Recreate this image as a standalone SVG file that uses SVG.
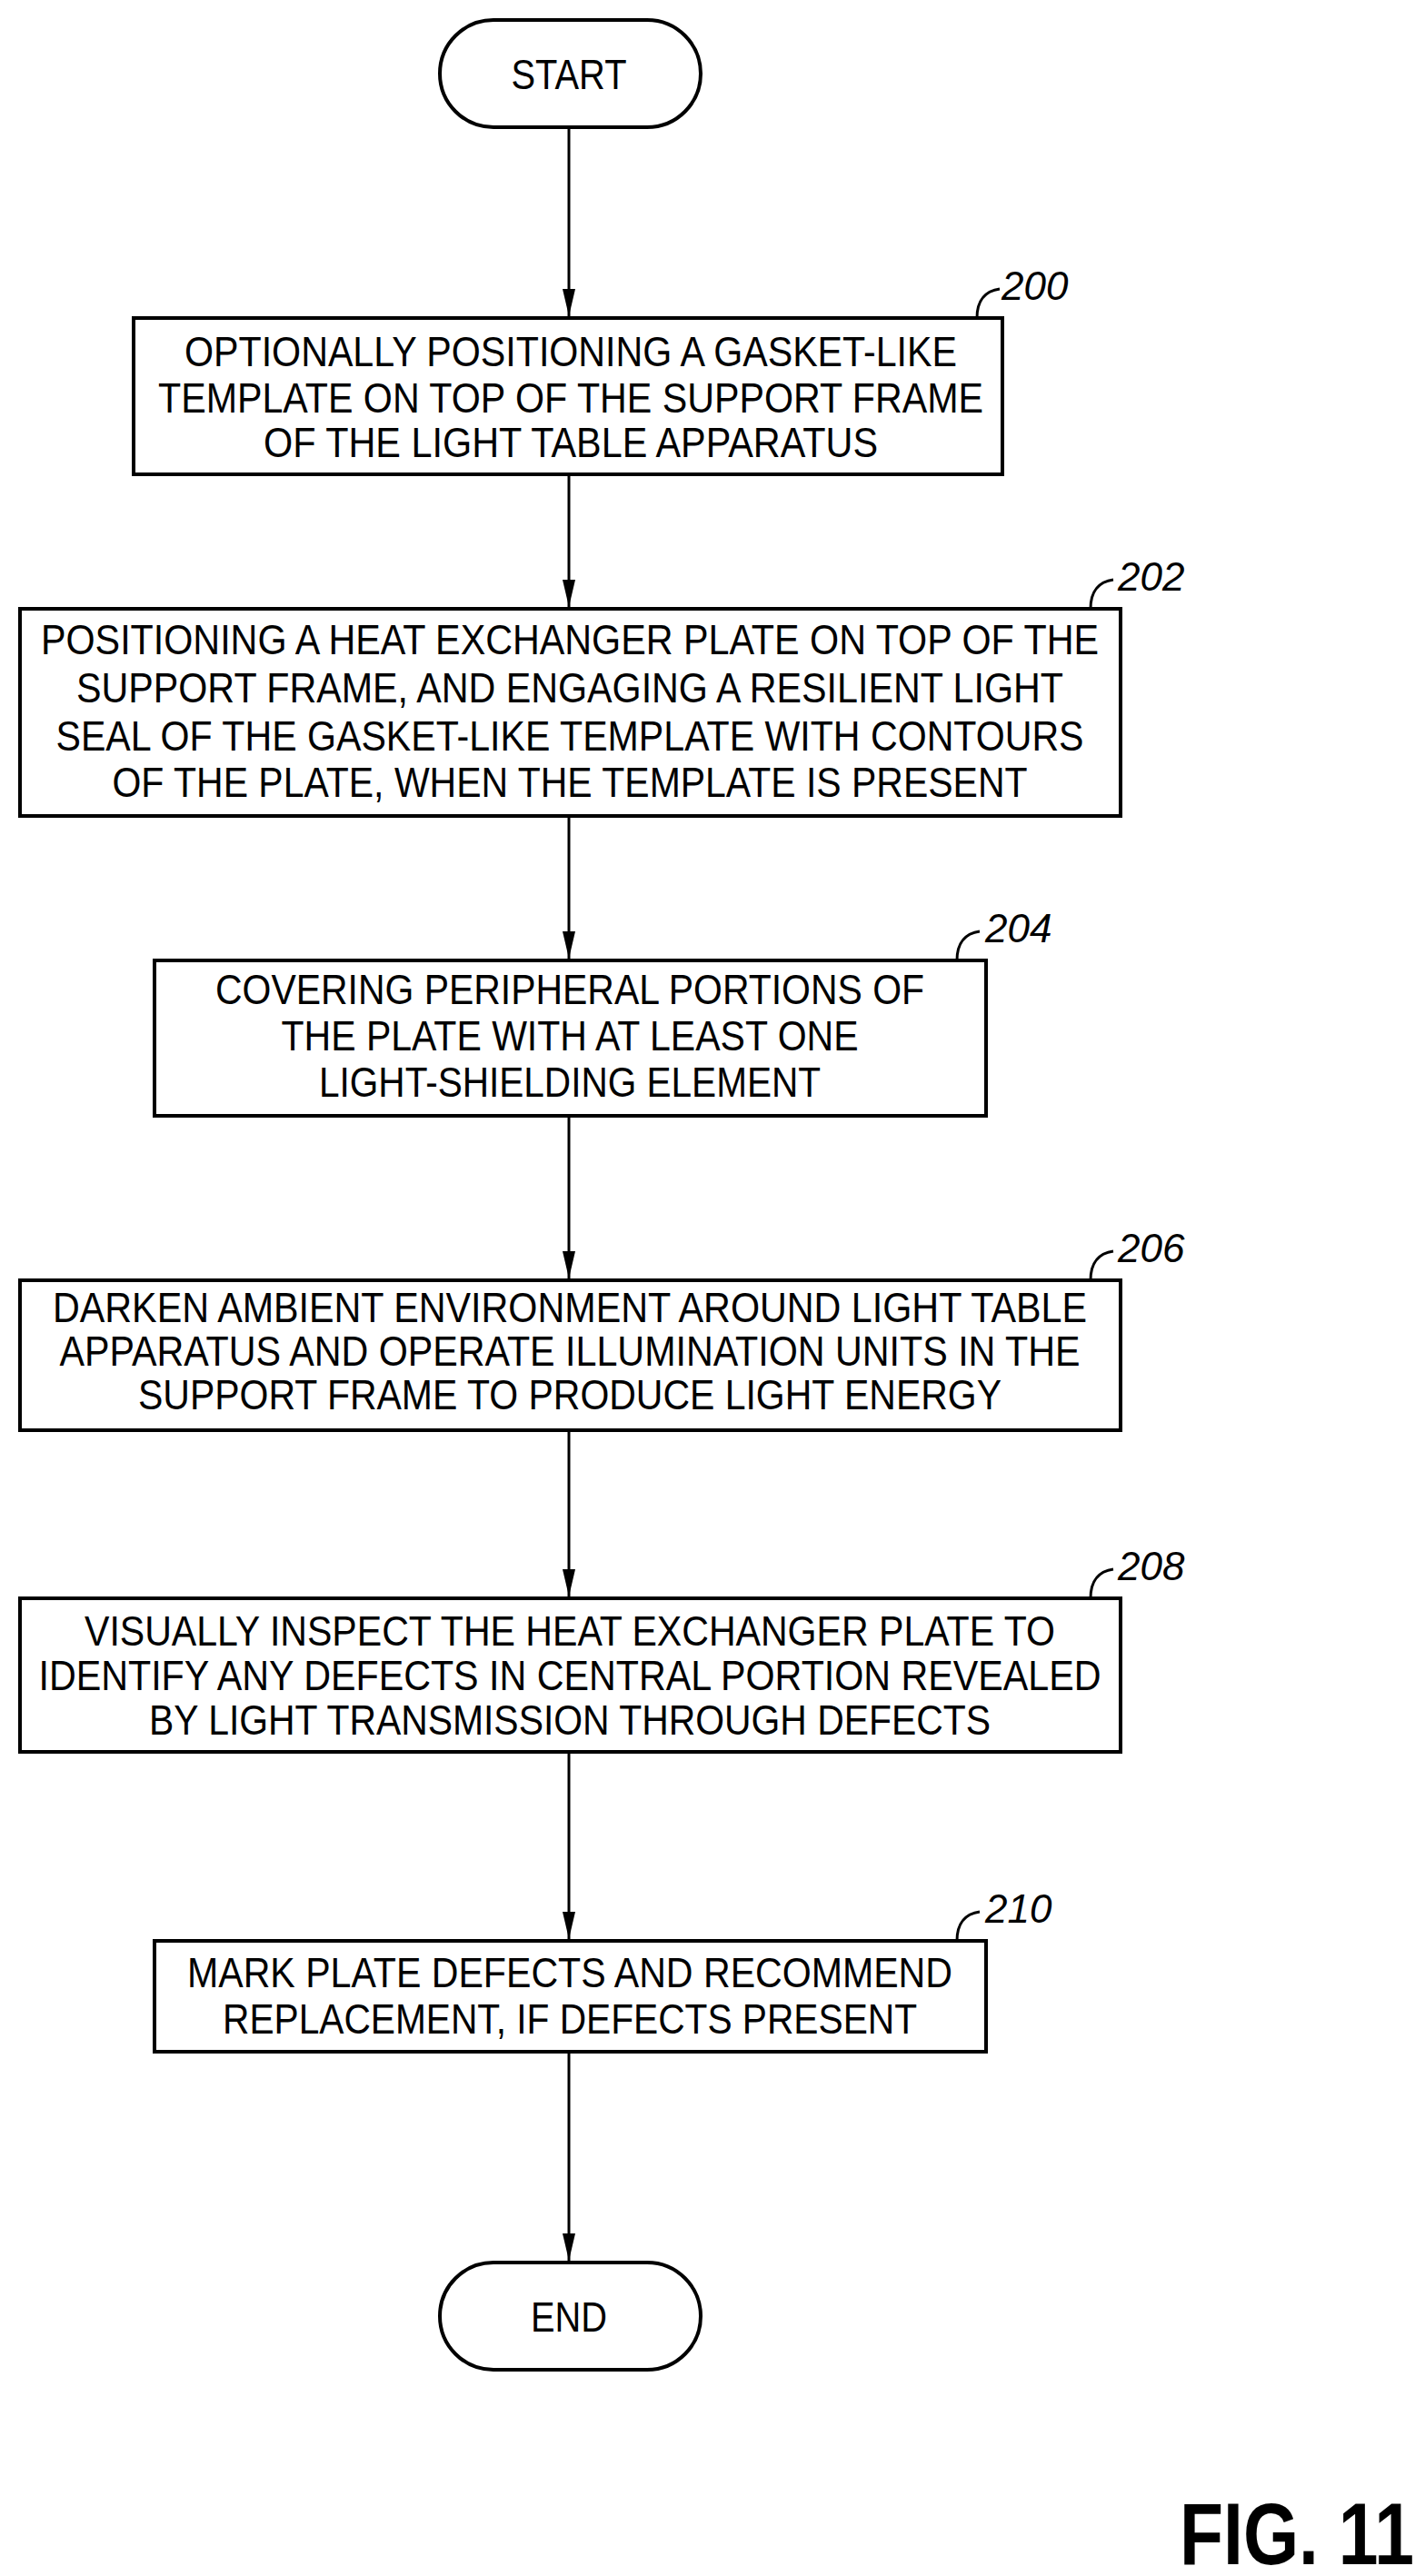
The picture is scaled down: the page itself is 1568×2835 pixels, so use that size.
<svg xmlns="http://www.w3.org/2000/svg" width="1568" height="2835" viewBox="0 0 1568 2835">
<style>
.b{fill:#fff;stroke:#000;stroke-width:4}
.t{font-family:"Liberation Sans",Arial,sans-serif;font-size:46px;text-anchor:middle;fill:#000}
.r{font-family:"Liberation Sans",Arial,sans-serif;font-size:44px;font-style:italic;fill:#000}
.l{fill:none;stroke:#000;stroke-width:3}
</style>
<defs>
<marker id="ah" markerWidth="30" markerHeight="14" refX="30" refY="7" orient="auto" markerUnits="userSpaceOnUse"><path d="M0,0 L30,7 L0,14Z" fill="#000"/></marker></defs>
<g id="connectors">
<line class="l" x1="626" y1="140" x2="626" y2="348" marker-end="url(#ah)"/>
<line class="l" x1="626" y1="522" x2="626" y2="668" marker-end="url(#ah)"/>
<line class="l" x1="626" y1="898" x2="626" y2="1055" marker-end="url(#ah)"/>
<line class="l" x1="626" y1="1228" x2="626" y2="1407" marker-end="url(#ah)"/>
<line class="l" x1="626" y1="1574" x2="626" y2="1757" marker-end="url(#ah)"/>
<line class="l" x1="626" y1="1928" x2="626" y2="2134" marker-end="url(#ah)"/>
<line class="l" x1="626" y1="2258" x2="626" y2="2488" marker-end="url(#ah)"/>
</g>
<g id="start"><rect class="b" x="484" y="22" width="287" height="118" rx="59"/><text class="t" x="626" y="98" textLength="127" lengthAdjust="spacingAndGlyphs">START</text></g>
<g id="n200"><rect class="b" x="147" y="350" width="956" height="172"/>
<text class="t" x="628" y="403" textLength="850" lengthAdjust="spacingAndGlyphs">OPTIONALLY POSITIONING A GASKET-LIKE</text>
<text class="t" x="628" y="454" textLength="908" lengthAdjust="spacingAndGlyphs">TEMPLATE ON TOP OF THE SUPPORT FRAME</text>
<text class="t" x="628" y="503" textLength="676" lengthAdjust="spacingAndGlyphs">OF THE LIGHT TABLE APPARATUS</text>
<path class="l" d="M1075,350 C1075,330 1085,320 1100,318"/><text class="r" x="1102" y="330">200</text></g>
<g id="n202"><rect class="b" x="22" y="670" width="1211" height="228"/>
<text class="t" x="627" y="720" textLength="1164" lengthAdjust="spacingAndGlyphs">POSITIONING A HEAT EXCHANGER PLATE ON TOP OF THE</text>
<text class="t" x="627" y="773" textLength="1086" lengthAdjust="spacingAndGlyphs">SUPPORT FRAME, AND ENGAGING A RESILIENT LIGHT</text>
<text class="t" x="627" y="826" textLength="1131" lengthAdjust="spacingAndGlyphs">SEAL OF THE GASKET-LIKE TEMPLATE WITH CONTOURS</text>
<text class="t" x="627" y="877" textLength="1007" lengthAdjust="spacingAndGlyphs">OF THE PLATE, WHEN THE TEMPLATE IS PRESENT</text>
<path class="l" d="M1200,670 C1200,650 1210,640 1225,638"/><text class="r" x="1230" y="650">202</text></g>
<g id="n204"><rect class="b" x="170" y="1057" width="915" height="171"/>
<text class="t" x="627" y="1105" textLength="780" lengthAdjust="spacingAndGlyphs">COVERING PERIPHERAL PORTIONS OF</text>
<text class="t" x="627" y="1156" textLength="635" lengthAdjust="spacingAndGlyphs">THE PLATE WITH AT LEAST ONE</text>
<text class="t" x="627" y="1207" textLength="552" lengthAdjust="spacingAndGlyphs">LIGHT-SHIELDING ELEMENT</text>
<path class="l" d="M1053,1057 C1053,1037 1063,1027 1078,1025"/><text class="r" x="1084" y="1037">204</text></g>
<g id="n206"><rect class="b" x="22" y="1409" width="1211" height="165"/>
<text class="t" x="627" y="1455" textLength="1138" lengthAdjust="spacingAndGlyphs">DARKEN AMBIENT ENVIRONMENT AROUND LIGHT TABLE</text>
<text class="t" x="627" y="1503" textLength="1123" lengthAdjust="spacingAndGlyphs">APPARATUS AND OPERATE ILLUMINATION UNITS IN THE</text>
<text class="t" x="627" y="1551" textLength="950" lengthAdjust="spacingAndGlyphs">SUPPORT FRAME TO PRODUCE LIGHT ENERGY</text>
<path class="l" d="M1200,1409 C1200,1389 1210,1379 1225,1377"/><text class="r" x="1230" y="1389">206</text></g>
<g id="n208"><rect class="b" x="22" y="1759" width="1211" height="169"/>
<text class="t" x="627" y="1811" textLength="1068" lengthAdjust="spacingAndGlyphs">VISUALLY INSPECT THE HEAT EXCHANGER PLATE TO</text>
<text class="t" x="627" y="1860" textLength="1169" lengthAdjust="spacingAndGlyphs">IDENTIFY ANY DEFECTS IN CENTRAL PORTION REVEALED</text>
<text class="t" x="627" y="1909" textLength="926" lengthAdjust="spacingAndGlyphs">BY LIGHT TRANSMISSION THROUGH DEFECTS</text>
<path class="l" d="M1200,1759 C1200,1739 1210,1729 1225,1727"/><text class="r" x="1230" y="1739">208</text></g>
<g id="n210"><rect class="b" x="170" y="2136" width="915" height="122"/>
<text class="t" x="627" y="2187" textLength="842" lengthAdjust="spacingAndGlyphs">MARK PLATE DEFECTS AND RECOMMEND</text>
<text class="t" x="627" y="2238" textLength="764" lengthAdjust="spacingAndGlyphs">REPLACEMENT, IF DEFECTS PRESENT</text>
<path class="l" d="M1053,2136 C1053,2116 1063,2106 1078,2104"/><text class="r" x="1084" y="2116">210</text></g>
<g id="end"><rect class="b" x="484" y="2490" width="287" height="118" rx="59"/><text class="t" x="626" y="2566" textLength="84" lengthAdjust="spacingAndGlyphs">END</text></g>
<text x="1298" y="2822" font-family="Liberation Sans,Arial,sans-serif" font-weight="bold" font-size="96" textLength="258" lengthAdjust="spacingAndGlyphs">FIG. 11</text>
</svg>
